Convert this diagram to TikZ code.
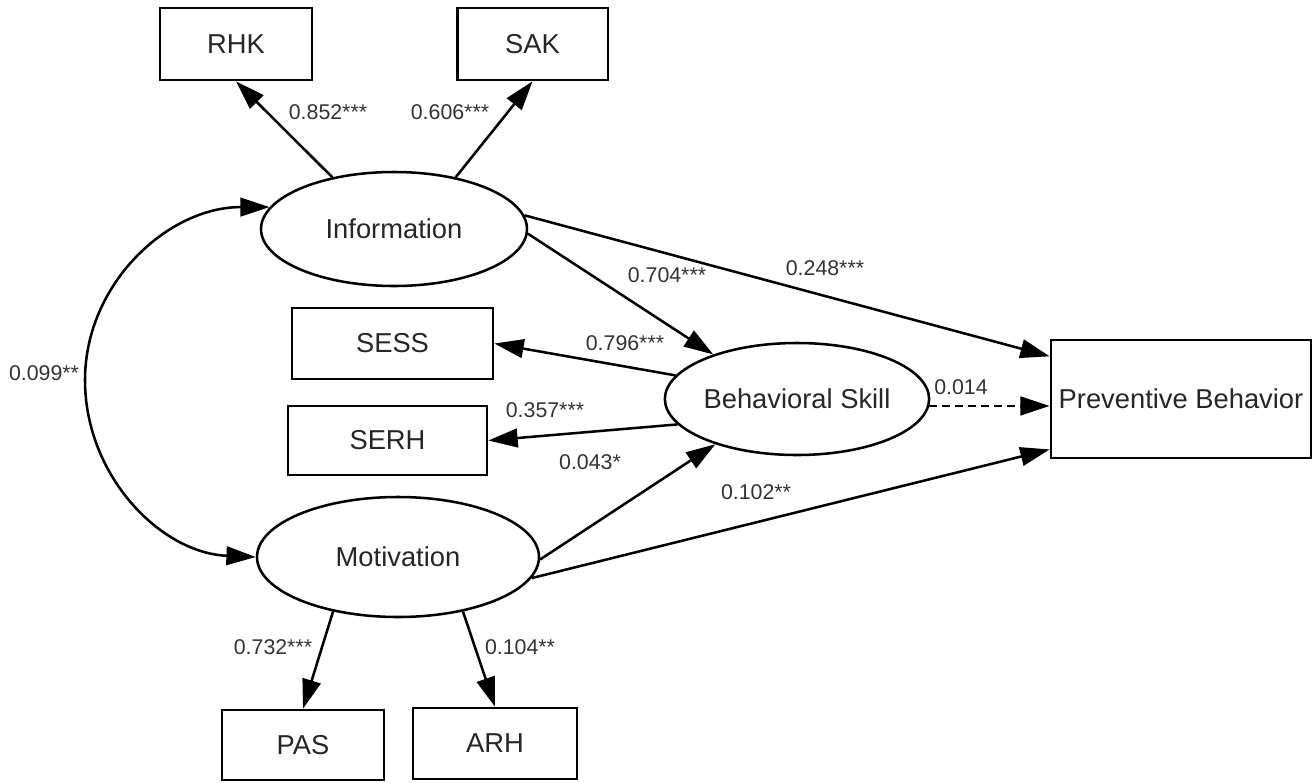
\documentclass[tikz,border=0pt]{standalone}
\usepackage{fontspec}
\setmainfont{Liberation Sans}
\usetikzlibrary{arrows.meta,shapes.geometric}
\begin{document}
\begin{tikzpicture}[x=0.75pt,y=-0.75pt,
  lat/.style={draw, ellipse, line width=1.9pt, inner sep=0pt, text=black!85, font=\fontsize{20.5}{23}\selectfont},
  obs/.style={draw, rectangle, line width=2pt, inner sep=0pt, text=black!85, font=\fontsize{20.5}{23}\selectfont},
  arr/.style={line width=1.9pt, -{Triangle[length=22pt,width=14pt]}},
  lbl/.style={font=\fontsize{16}{18}\selectfont, text=black!80, inner sep=0pt},
]
\useasboundingbox (0,0) rectangle (1313,782);

% observed variables
\node[obs, minimum width=114pt, minimum height=54pt] (rhk) at (236,44) {RHK};
\node[obs, minimum width=113pt, minimum height=54pt] (sak) at (532.5,44) {SAK};
\node[obs, minimum width=150.75pt, minimum height=53.25pt] (sess) at (392.5,343.5) {SESS};
\node[obs, minimum width=149.25pt, minimum height=51.75pt] (serh) at (387.5,440.5) {SERH};
\node[obs, minimum width=195pt, minimum height=88.5pt] (pb) at (1181,399) {Preventive Behavior};
\node[obs, minimum width=121.5pt, minimum height=52.5pt] (pas) at (303,745) {PAS};
\node[obs, minimum width=123pt, minimum height=53.25pt] (arh) at (495,743.5) {ARH};

% latent variables
\node[lat, minimum width=199.5pt, minimum height=85.5pt] (info) at (394,229) {Information};
\node[lat, minimum width=211.5pt, minimum height=90pt] (mot) at (398,557) {Motivation};
\node[lat, minimum width=193.5pt, minimum height=84pt] (bs) at (797,399) {Behavioral Skill};

\coordinate (covl) at (85,380);

% paths
\draw[arr] (info.140) -- (rhk.south);
\draw[arr] (info.40) -- (sak.south);
\draw[arr] (info.-2) -- (bs.152);
\draw[arr] (info.6) -- (pb.162);
\draw[arr] (bs.169.5) -- (sess.east);
\draw[arr] (bs.192.5) -- (serh.east);
\draw[arr, dash pattern=on 6pt off 3.75pt] (bs.-3) -- (bs.-3 -| pb.west);
\draw[arr] (mot.-1) -- (bs.209);
\draw[arr] (mot.-9) -- (pb.201);
\draw[arr] (mot.220.7) -- (pas.north);
\draw[arr] (mot.320) -- (arh.north);
\draw[line width=1.9pt, {Triangle[length=22pt,width=14pt]}-{Triangle[length=22pt,width=14pt]}]
  (info.170) .. controls +(-102,0) and +(0,-96) .. (covl)
  .. controls +(0,96) and +(-95,-4) .. (mot.west);

% coefficients
\node[lbl] (l1) at (328,112) {0.852***};
\node[lbl] (l2) at (450,112) {0.606***};
\node[lbl] (l3) at (667,275) {0.704***};
\node[lbl] (l4) at (825,268) {0.248***};
\node[lbl] (l5) at (625,343) {0.796***};
\node[lbl] (l6) at (545,410) {0.357***};
\node[lbl] (l7) at (961,387) {0.014};
\node[lbl] (l8) at (590,462) {0.043*};
\node[lbl] (l9) at (756,492) {0.102**};
\node[lbl] (l10) at (44,373) {0.099**};
\node[lbl] (l11) at (273,647) {0.732***};
\node[lbl] (l12) at (520,647) {0.104**};
\end{tikzpicture}
\end{document}
